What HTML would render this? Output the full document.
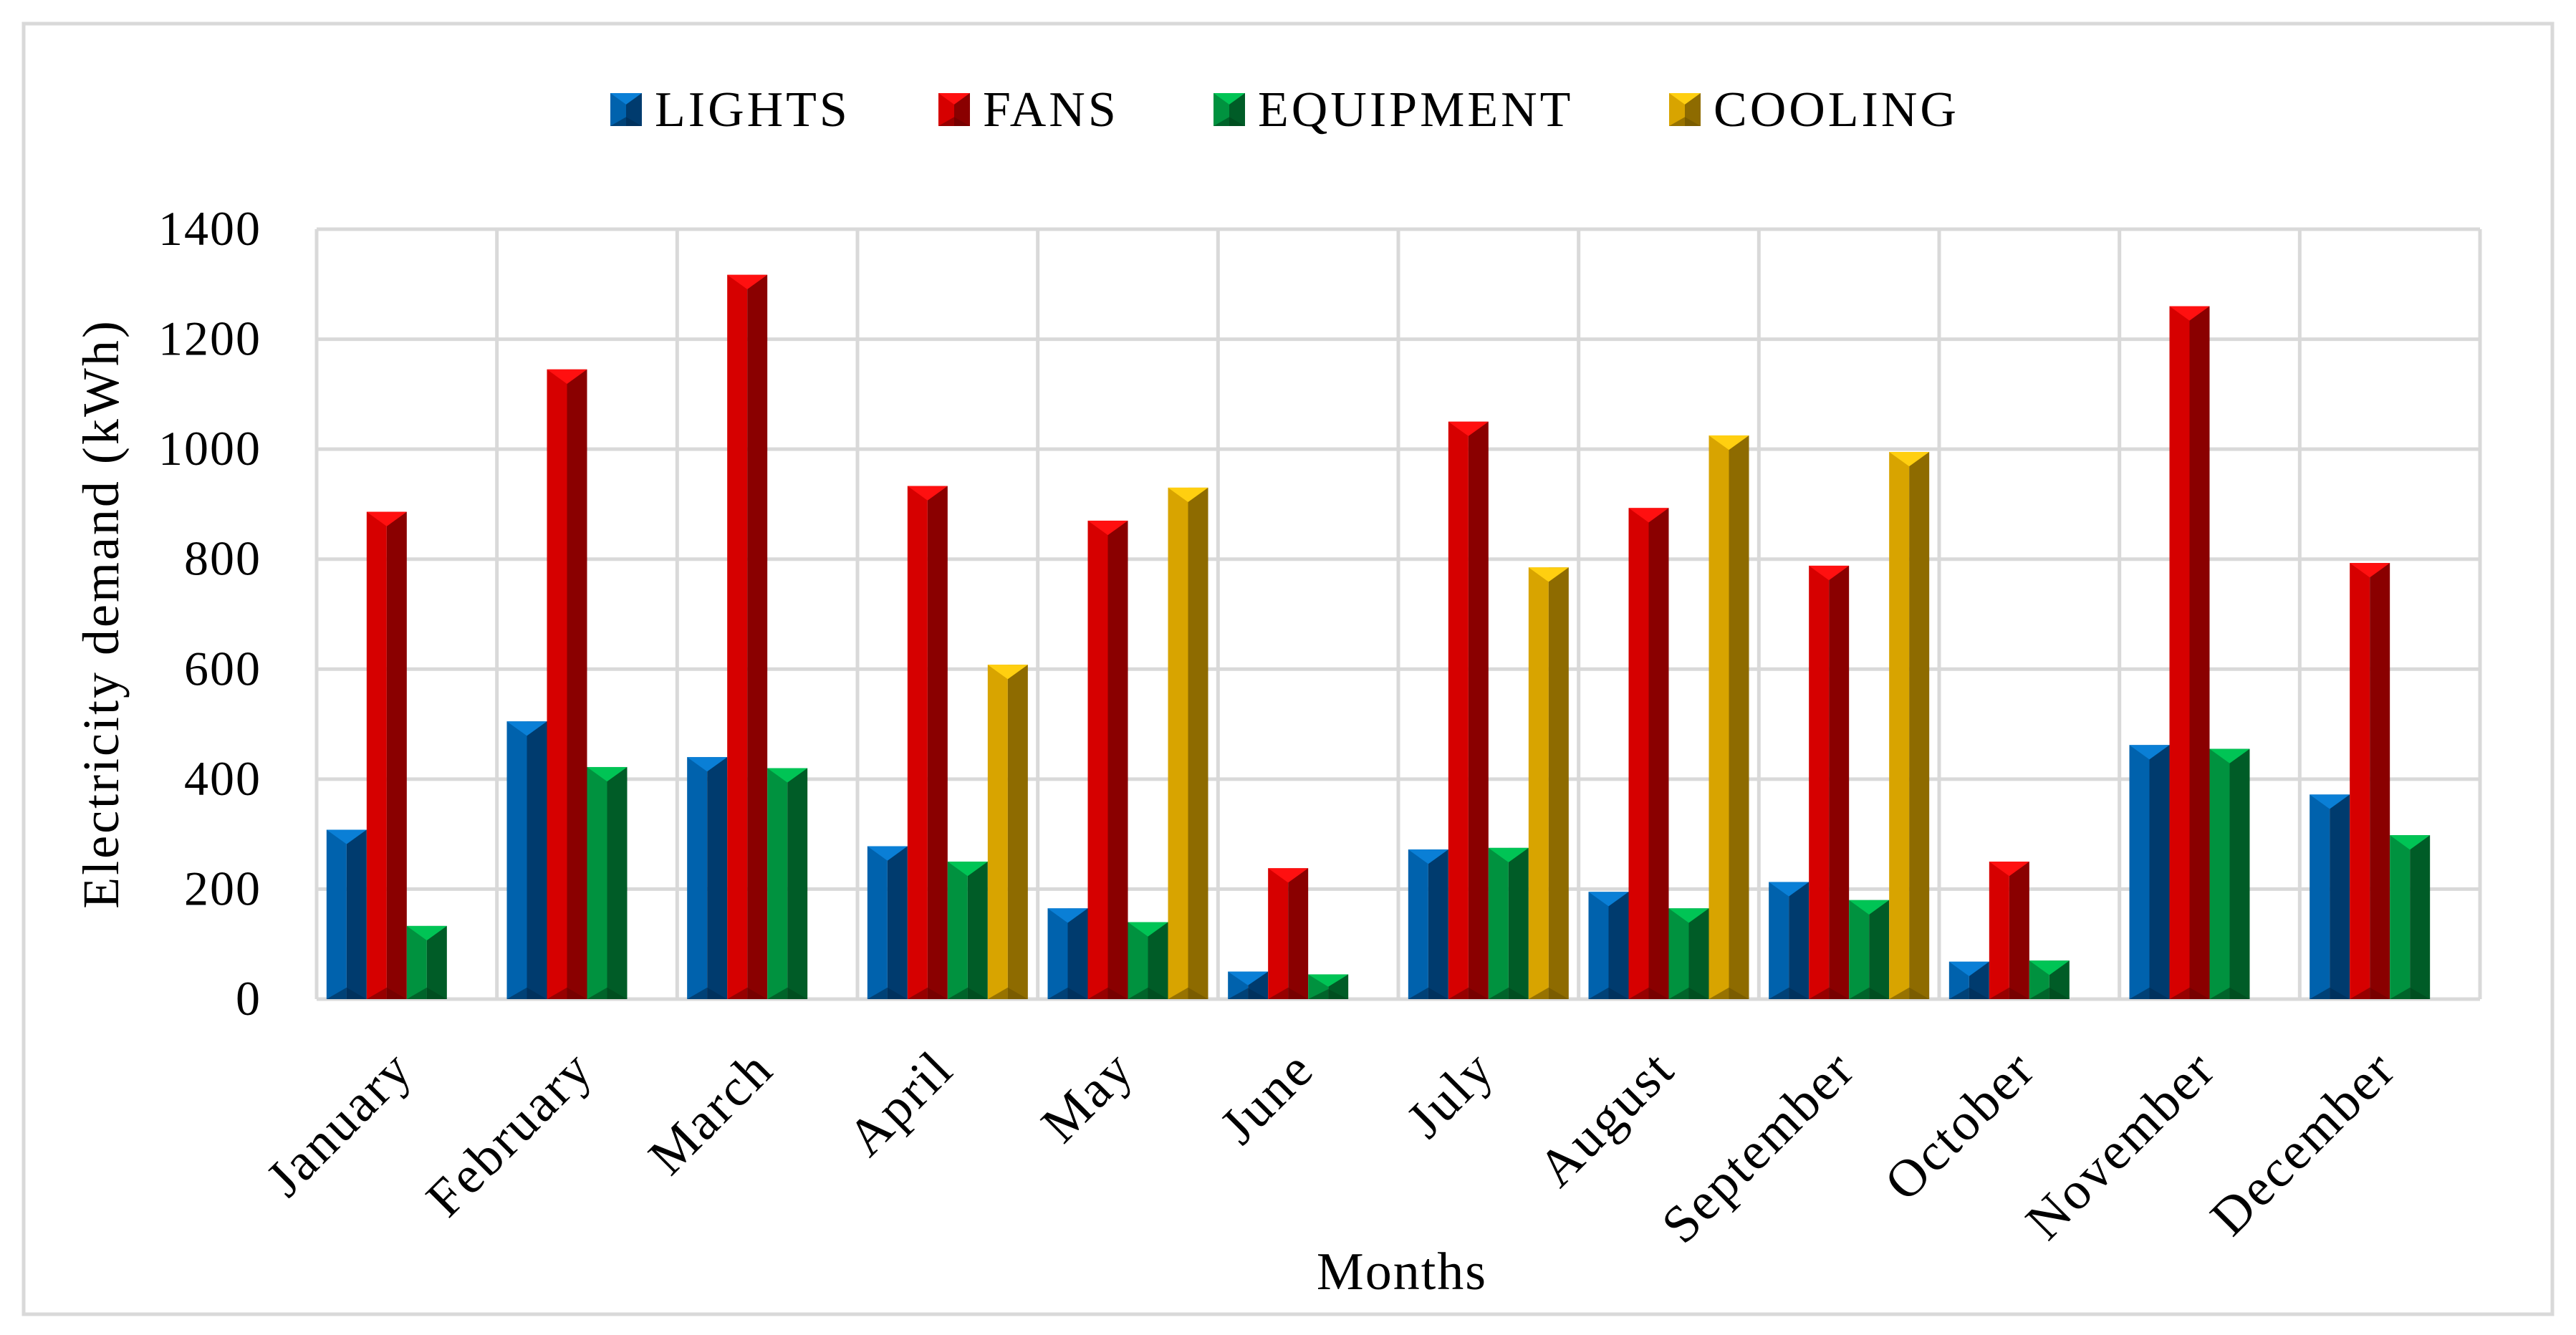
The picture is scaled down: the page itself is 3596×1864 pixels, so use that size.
<!DOCTYPE html>
<html><head><meta charset="utf-8"><style>
html,body{margin:0;padding:0;background:#fff}
svg{display:block}
text{font-family:"Liberation Serif",serif;fill:#000}
</style></head><body>
<svg id="c" width="3596" height="1864" viewBox="0 0 3596 1864" xmlns="http://www.w3.org/2000/svg">
<rect x="33" y="33" width="3530" height="1802" fill="#fff" stroke="#d9d9d9" stroke-width="5"/>
<g id="grid"></g><g id="bars"></g><g id="labels"></g><g id="legend"></g>
<text x="0" y="0" font-size="72" letter-spacing="3" text-anchor="middle" transform="translate(165,857) rotate(-90)">Electricity demand (kWh)</text>
<text x="1957" y="1800" font-size="74" letter-spacing="2" text-anchor="middle">Months</text>
</svg>
<script>
const months=["January","February","March","April","May","June","July","August","September","October","November","December"];
const seriesNames=["LIGHTS","FANS","EQUIPMENT","COOLING"];
const lights=[308,505,440,278,165,50,272,195,213,68,462,372];
const fans=[886,1145,1317,933,870,238,1050,893,788,250,1260,793];
const equipment=[133,422,420,250,140,45,275,165,180,70,455,298];
const cooling=[0,0,0,608,930,0,785,1025,995,0,0,0];
const yTicks=[0,200,400,600,800,1000,1200,1400];
const series=[lights,fans,equipment,cooling];
const colors=[
 {l:"#0062ad",r:"#003b6e",t:"#0a7fd6",b:"#002b52"},
 {l:"#d60000",r:"#8a0000",t:"#ff1010",b:"#6a0000"},
 {l:"#00923f",r:"#005c27",t:"#00c455",b:"#00441c"},
 {l:"#d8a400",r:"#8e6b00",t:"#ffcf10",b:"#6c5100"}];
const NS="http://www.w3.org/2000/svg";
const L=442,R=3462,T=320,B=1395,YMAX=1400;
const y=v=>B-(v/YMAX)*(B-T);
const cw=(R-L)/months.length;
const bw=56, gpad=(cw-4*bw)/2;
const x=(i,s)=>L+i*cw+gpad+s*bw;
function el(tag,attrs,parent){const e=document.createElementNS(NS,tag);for(const k in attrs)e.setAttribute(k,attrs[k]);parent.appendChild(e);return e;}
const grid=document.getElementById('grid'),bars=document.getElementById('bars'),labels=document.getElementById('labels'),legend=document.getElementById('legend');
yTicks.forEach(t=>{
 const g=el('line',{x1:L,x2:R,y1:y(t),y2:y(t),stroke:'#d9d9d9','stroke-width':5},grid);
 
 
 const tx=el('text',{x:365,y:y(t)+22,'font-size':68,'letter-spacing':2,'text-anchor':'end'},labels);
 tx.textContent=t;
 
 
});
for(let i=0;i<=months.length;i++){
 const v=el('line',{x1:L+i*cw,x2:L+i*cw,y1:T,y2:B,stroke:'#d9d9d9','stroke-width':5},grid);
 
 
}
function drawBar(x0,w,top,bot,c,parent){
 const g=el('g',{},parent);
 const m=x0+w/2,d=Math.min(w*0.36,(bot-top)/2);
 el('rect',{x:x0,y:top,width:w/2,height:bot-top,fill:c.l},g);
 el('rect',{x:m,y:top,width:w/2,height:bot-top,fill:c.r},g);
 el('polygon',{points:`${x0},${top} ${x0+w},${top} ${m},${top+d}`,fill:c.t},g);
 el('polygon',{points:`${x0},${bot} ${x0+w},${bot} ${m},${bot-d*0.8}`,fill:c.b,opacity:0.6},g);
 return g;
}
months.forEach((mn,i)=>{
 series.forEach((arr,s)=>{
  if(arr[i]<=0)return;
  const b=drawBar(x(i,s),bw,y(arr[i]),B,colors[s],bars);
  
  
 });
 const cx=L+(i+0.5)*cw;
 const t=el('text',{x:0,y:0,'font-size':74,'letter-spacing':3,'text-anchor':'end',transform:`translate(${cx+12},${1497}) rotate(-45)`},labels);
 t.textContent=mn;
 
 
});
const legX=[852,1310,1694,2330];
seriesNames.forEach((n,s)=>{
 const g=el('g',{},legend);
 
 
 drawBar(legX[s],44,130,176,colors[s],g);
 const t=el('text',{x:legX[s]+62,y:176,'font-size':70,'letter-spacing':4},g);
 t.textContent=n;
});
</script>
</body></html>
